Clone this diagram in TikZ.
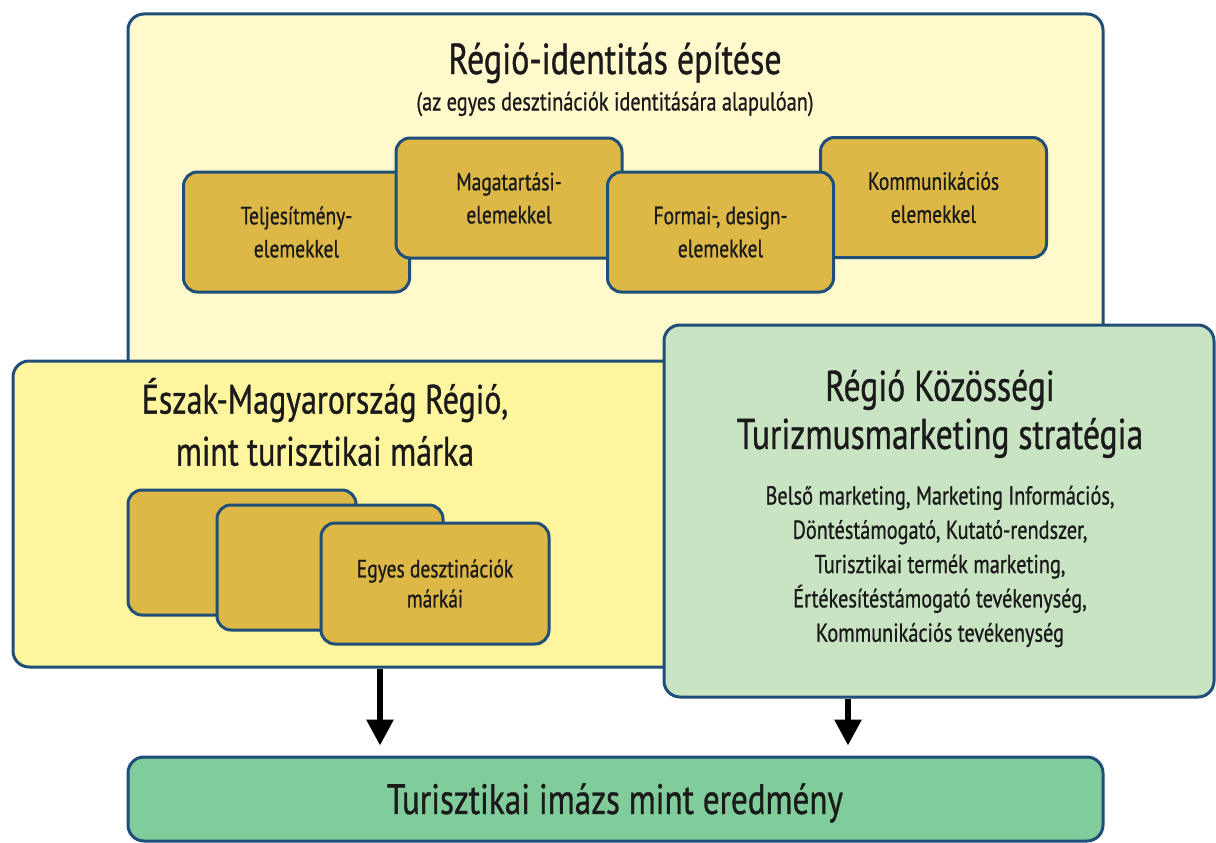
\documentclass[tikz,border=0pt]{standalone}
\usepackage{fontspec}
\setmainfont{PT Sans}[FakeStretch=0.78,FakeBold=0.8]
\usetikzlibrary{arrows.meta,calc}
\definecolor{bordc}{HTML}{1F4E79}
\definecolor{topfill}{HTML}{FFF9CC}
\definecolor{midfill}{HTML}{FFF59E}
\definecolor{goldfill}{HTML}{DDB846}
\definecolor{greenfill}{HTML}{C9E4C3}
\definecolor{resfill}{HTML}{80CC9B}
\definecolor{txt}{HTML}{1A1A1A}
\tikzset{
  panel/.style={draw=bordc, line width=3pt, rounded corners=16pt, inner sep=0pt},
  goldbox/.style={draw=bordc, line width=3pt, rounded corners=14pt, fill=goldfill, inner sep=0pt,
    minimum width=226pt, minimum height=120pt, align=center, text=txt,
    font=\fontsize{25}{33}\selectfont},
  bigtitle/.style={align=center, text=txt, inner sep=0pt},
  arr/.style={line width=6pt, -{Triangle[width=26pt,length=26pt]}, black}
}
\begin{document}
\begin{tikzpicture}[x=1pt,y=-1pt]
\useasboundingbox (0,0) rectangle (1216,843);
% top panel
\node[panel, fill=topfill, minimum width=975pt, minimum height=386pt] (top) at (615.5,207) {};
\node[bigtitle, font=\fontsize{43.5}{46}\selectfont] (t1) at (615,63) {Régió-identitás építése};
\node[bigtitle, font=\fontsize{26}{28}\selectfont] (t1s) at (615,104) {(az egyes desztinációk identitására alapulóan)};
% four gold boxes
\node[goldbox] (telj) at (296.5,232) {Teljesítmény-\\elemekkel};
\node[goldbox] (maga) at (509,198) {Magatartási-\\elemekkel};
\node[goldbox] (komm) at (933.5,197.5) {Kommunikációs\\elemekkel};
\node[goldbox] (form) at (720.5,232) {Formai-, design-\\elemekkel};
% middle yellow panel
\node[panel, fill=midfill, minimum width=690pt, minimum height=306pt] (mid) at (358,514) {};
\node[bigtitle, font=\fontsize{41}{52}\selectfont] (t2) at (325,422) {Észak-Magyarország Régió,\\mint turisztikai márka};
% stacked boxes
\node[goldbox, minimum width=228pt, minimum height=125pt] (s1) at (242,552.5) {};
\node[goldbox, minimum width=226pt, minimum height=125pt] (s2) at (330,567.5) {};
\node[goldbox, minimum width=228pt, minimum height=121pt, font=\fontsize{25}{30}\selectfont] (s3) at (435,583.5) {Egyes desztinációk\\márkái};
% green panel
\node[panel, fill=greenfill, minimum width=550pt, minimum height=372pt] (grn) at (939,511) {};
\node[bigtitle, font=\fontsize{43}{48}\selectfont] (t3) at (940,414) {Régió Közösségi\\Turizmusmarketing stratégia};
\node[bigtitle, font=\fontsize{26}{34.3}\selectfont] (t3b) at (940,566.5) {Belső marketing, Marketing Információs,\\Döntéstámogató, Kutató-rendszer,\\Turisztikai termék marketing,\\Értékesítéstámogató tevékenység,\\Kommunikációs tevékenység};
% result
\node[panel, fill=resfill, minimum width=975pt, minimum height=84pt] (res) at (615.5,799) {};
\node[bigtitle, font=\fontsize{42.5}{44}\selectfont] (t4) at (615,803) {Turisztikai imázs mint eredmény};
% arrows
\coordinate (aL) at (380,0);
\coordinate (aR) at (848,0);
\draw[arr] (mid.south -| aL) -- ($(res.north -| aL)+(0,-10)$);
\draw[arr] (grn.south -| aR) -- ($(res.north -| aR)+(0,-10)$);
\end{tikzpicture}
\end{document}
